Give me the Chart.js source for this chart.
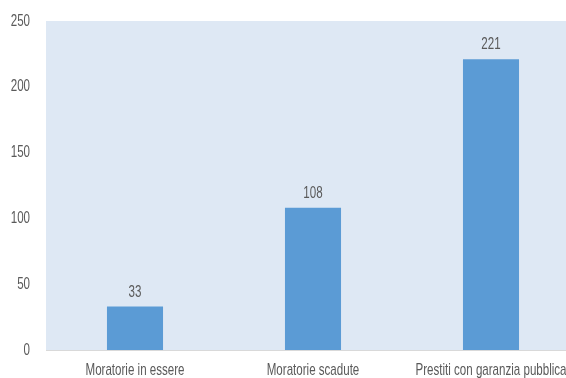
<!DOCTYPE html>
<html><head><meta charset="utf-8">
<script src="https://cdn.jsdelivr.net/npm/chart.js@4/dist/chart.umd.min.js"></script>
<style>
html,body{margin:0;padding:0;background:#fff;overflow:hidden;width:566px;height:378px}
#wrap{width:580px;height:378px;position:relative}
</style></head><body>
<div id="wrap"><canvas id="c" width="580" height="378"></canvas></div>
<script>
const categories = ["Moratorie in essere", "Moratorie scadute", "Prestiti con garanzia pubblica"];
const values = [33, 108, 221];
const yTicks = [0, 50, 100, 150, 200, 250];

const FONT = "17px 'Liberation Sans', Arial, sans-serif";
const TXT = '#5a5a5a';
let SQUEEZE = 0.6;

function squeezedText(ctx, txt, x, y, align) {
  ctx.save();
  ctx.translate(x, y);
  ctx.scale(SQUEEZE, 1);
  ctx.textAlign = align;
  ctx.fillText(txt, 0, 0);
  ctx.restore();
}

const bgPlugin = {
  id: 'bg',
  beforeDraw(chart) {
    const {ctx, chartArea: a} = chart;
    ctx.save();
    ctx.fillStyle = '#dee8f4';
    ctx.fillRect(a.left, a.top, a.right - a.left, a.bottom - a.top);
    ctx.strokeStyle = '#d9d9d9';
    ctx.lineWidth = 1;
    ctx.beginPath();
    ctx.moveTo(a.left, a.bottom + 0.5);
    ctx.lineTo(a.right, a.bottom + 0.5);
    ctx.stroke();
    ctx.restore();
  }
};
const textPlugin = {
  id: 'texts',
  afterDraw(chart) {
    const {ctx} = chart;
    ctx.save();
    ctx.font = FONT;
    ctx.fillStyle = TXT;
    // calibrate horizontal squeeze to the narrow font of the original
    SQUEEZE = 99 / ctx.measureText(categories[0]).width;
    const xs = chart.scales.x, ys = chart.scales.y;
    ctx.textBaseline = 'alphabetic';
    xs.ticks.forEach((t, i) => {
      squeezedText(ctx, categories[i], xs.getPixelForTick(i), 375, 'center');
    });
    ctx.textBaseline = 'middle';
    ys.ticks.forEach(t => {
      squeezedText(ctx, String(t.value), 30, ys.getPixelForValue(t.value), 'right');
    });
    const meta = chart.getDatasetMeta(0);
    meta.data.forEach((el, i) => {
      squeezedText(ctx, String(values[i]), el.x, el.y - 14.5, 'center');
    });
    ctx.restore();
  }
};

new Chart(document.getElementById('c'), {
  type: 'bar',
  data: {
    labels: categories,
    datasets: [{
      data: values,
      backgroundColor: '#5b9bd5',
      borderWidth: 0,
      categoryPercentage: 1,
      barPercentage: 0.315
    }]
  },
  options: {
    responsive: false,
    animation: false,
    layout: {padding: {top: 21, left: 0, right: 0, bottom: 0}},
    plugins: {legend: {display: false}, tooltip: {enabled: false}},
    scales: {
      x: {
        grid: {display: false},
        border: {display: false},
        ticks: {display: false},
        afterFit(s) { s.height = 28; s.paddingLeft = 0; s.paddingRight = 0; }
      },
      y: {
        min: 0, max: 250,
        grid: {display: false, drawTicks: false},
        border: {display: false},
        afterBuildTicks(s) { s.ticks = yTicks.map(v => ({value: v})); },
        ticks: {display: false},
        afterFit(s) { s.width = 46; s.paddingTop = 0; s.paddingBottom = 0; }
      }
    }
  },
  plugins: [bgPlugin, textPlugin]
});
</script>
</body></html>
